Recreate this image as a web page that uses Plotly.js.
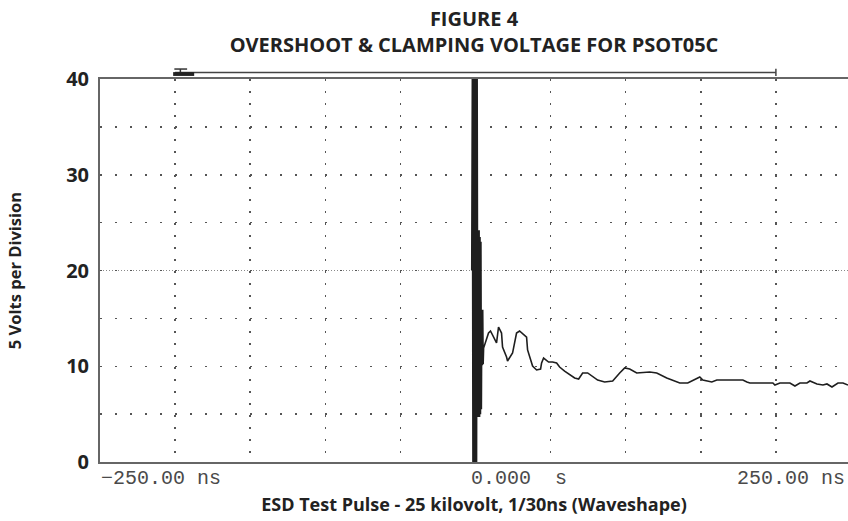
<!DOCTYPE html>
<html>
<head>
<meta charset="utf-8">
<script src="https://cdn.plot.ly/plotly-3.0.1.min.js"></script>
<style>html,body{margin:0;padding:0;background:#fff;}#chart{width:848px;height:521px;}</style>
</head>
<body>
<div id="chart"></div>
<script>
// Initial ESD burst (ns, volts) — fast ringing near t = 0
const burstNs = [-2.5, -2.1, -1.7, -1.3, -0.9, -0.5, -0.1, 0.3, 0.7, 1.1, 1.5, 1.8, 2.1, 2.4, 2.7, 3.0, 3.3, 3.6, 3.9, 4.2, 4.5, 4.8, 5.1];
const burstV  = [20, 40, 0, 40, 0, 40, 0, 40, 0, 40, 4.7, 24.2, 4.7, 24.2, 4.7, 23.5, 5.0, 23, 5.5, 15.9, 10.1, 15.9, 10.2];

// Clamped waveform after the burst (ns, volts)
const waveNs = [5.4, 8.67, 10.0, 14.0, 15.33, 17.33, 18.0, 20.67, 21.33, 24.67, 27.33, 29.33, 34.0, 34.67, 38.0, 40.67, 43.33, 44.0, 45.33, 48.67, 51.33, 54.0, 56.0, 59.33, 63.33, 66.0, 68.67, 71.33, 74.67, 78.0, 81.33, 86.0, 91.33, 96.0, 99.33, 102.67, 107.33, 116.0, 120.67, 127.33, 136.0, 141.33, 147.33, 149.33, 151.33, 157.33, 160.67, 178.0, 180.67, 182.67, 198.0, 199.33, 202.67, 209.33, 212.67, 216.0, 220.67, 222.67, 227.33, 231.33, 234.0, 237.33, 241.33, 244.67, 248.0];
const waveV  = [11.9, 13.47, 13.68, 12.43, 14.1, 13.47, 12.0, 10.97, 10.55, 11.38, 13.47, 13.68, 13.05, 11.7, 10.03, 9.61, 9.71, 10.34, 10.86, 10.44, 10.44, 10.34, 9.92, 9.5, 9.09, 8.77, 8.67, 9.3, 9.3, 8.88, 8.56, 8.36, 8.46, 9.3, 9.82, 9.71, 9.3, 9.4, 9.3, 8.77, 8.25, 8.25, 8.77, 8.88, 8.56, 8.36, 8.56, 8.56, 8.36, 8.25, 8.25, 8.04, 8.25, 8.25, 7.94, 8.25, 8.25, 8.46, 8.15, 8.04, 8.15, 7.83, 8.25, 8.25, 8.04];

// Axis ticks / labels
const xRange = [-250, 248];
const gridNs = [-250, -200, -150, -100, -50, 0, 50, 100, 150, 200, 250];
const gridV = [0, 5, 10, 15, 20, 25, 30, 35, 40];
const gridVText = ['0', '', '10', '', '20', '', '30', '', '40'];
const xTickText = ['\u2212250.00 ns', '0.000\u00a0\u00a0s', '250.00 ns'];
const xTickAt = [-250, 0, 250];

const boldFont = '"Open Sans", Lato, sans-serif';
const monoFont = '"Liberation Mono", "DejaVu Sans Mono", monospace';

const trace = {
  x: burstNs.concat(waveNs),
  y: burstV.concat(waveV),
  type: 'scatter',
  mode: 'lines',
  line: {color: '#1e1e1e', width: 1.6},
  hoverinfo: 'skip',
  showlegend: false
};

const anchors = [
  {xanchor: 'left', xshift: -1},
  {xanchor: 'left', xshift: -7},
  {xanchor: 'right', xshift: -1}
];
const annotations = xTickText.map((t, i) => ({
  text: t, x: Math.min(xTickAt[i], xRange[1]), xref: 'x', y: 0, yref: 'paper',
  xanchor: anchors[i].xanchor, xshift: anchors[i].xshift,
  yanchor: 'middle', yshift: -16, showarrow: false,
  font: {family: monoFont, size: 20, color: '#4a4a4a'}
}));

const shapes = [
  // dense centre graticule line
  {type: 'line', xref: 'paper', x0: 0, x1: 1, yref: 'y', y0: 20, y1: 20,
   line: {color: '#8a8a8a', width: 1, dash: '1px,2px'}, layer: 'below'},
  // record-length bar above the plot
  {type: 'line', xref: 'x', x0: -200, x1: 200, yref: 'paper', y0: 1.017, y1: 1.017,
   line: {color: '#444', width: 1.5}},
  {type: 'line', xref: 'x', x0: 200, x1: 200, yref: 'paper', y0: 1.008, y1: 1.027,
   line: {color: '#444', width: 1.5}},
  // trigger marker
  {type: 'rect', xref: 'x', x0: -201.3, x1: -187.3, yref: 'paper', y0: 1.008, y1: 1.018,
   fillcolor: '#222', line: {width: 0}},
  {type: 'line', xref: 'x', x0: -200.5, x1: -192, yref: 'paper', y0: 1.026, y1: 1.026,
   line: {color: '#333', width: 1.5}},
  {type: 'line', xref: 'x', x0: -196.5, x1: -196.5, yref: 'paper', y0: 1.018, y1: 1.026,
   line: {color: '#333', width: 1.5}}
];

const layout = {
  width: 848, height: 521,
  margin: {l: 100, r: 0, t: 79, b: 59},
  paper_bgcolor: '#fff', plot_bgcolor: '#fff',
  title: {
    text: 'FIGURE 4<br>OVERSHOOT &amp; CLAMPING VOLTAGE FOR PSOT05C',
    font: {family: boldFont, size: 20, color: '#222', weight: 'bold'},
    xref: 'paper', x: 0.5, xanchor: 'center',
    yref: 'container', y: 0.95, yanchor: 'top'
  },
  xaxis: {
    range: xRange,
    tickvals: gridNs, showticklabels: false, ticks: '',
    showgrid: true, gridcolor: '#555', gridwidth: 1.5, griddash: '1.5px,10.5px',
    showline: true, linecolor: '#666', linewidth: 2, mirror: true,
    zeroline: false, fixedrange: true,
    title: {text: 'ESD Test Pulse - 25 kilovolt, 1/30ns (Waveshape)',
            font: {family: boldFont, size: 18, color: '#222', weight: 'bold'}, standoff: 35}
  },
  yaxis: {
    range: [0, 40],
    tickvals: gridV, ticktext: gridVText, ticks: '',
    tickfont: {family: boldFont, size: 20, color: '#222', weight: 'bold'},
    ticklabelstandoff: 5,
    showgrid: true, gridcolor: '#555', gridwidth: 1.5, griddash: '1.5px,13.5px',
    showline: true, linecolor: '#666', linewidth: 2, mirror: false,
    zeroline: false, fixedrange: true,
    title: {text: '5 Volts per Division',
            font: {family: boldFont, size: 16.5, color: '#222', weight: 'bold'}, standoff: 40}
  },
  annotations: annotations,
  shapes: shapes,
  showlegend: false
};

Plotly.newPlot('chart', [trace], layout, {staticPlot: true, displayModeBar: false});
</script>
</body>
</html>
